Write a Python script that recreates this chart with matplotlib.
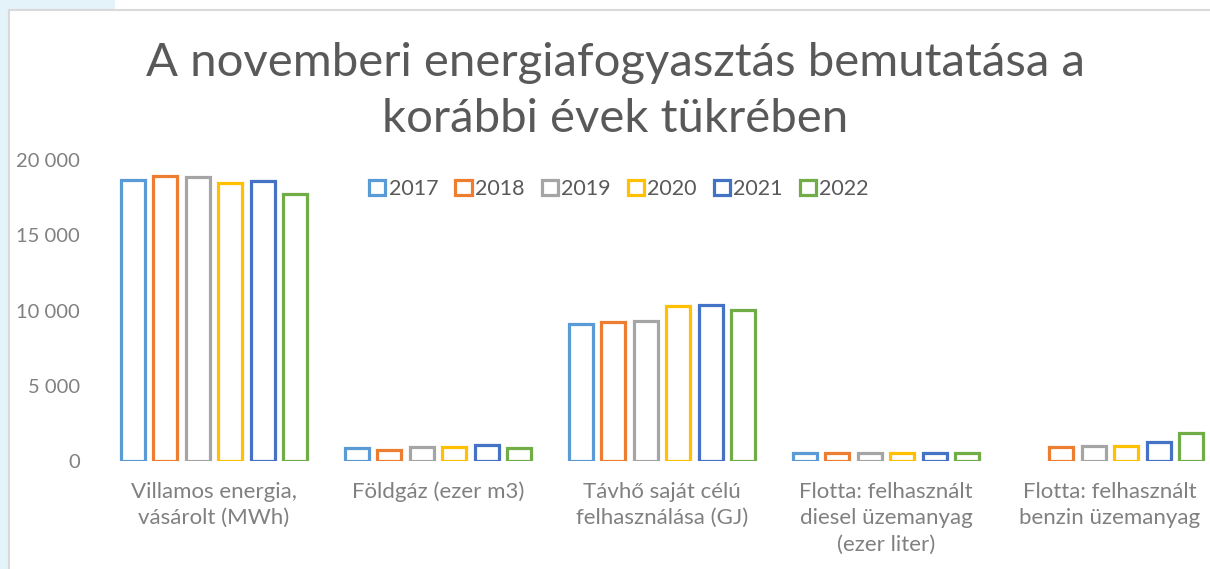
import matplotlib.pyplot as plt
import matplotlib.patches as mpatches
import matplotlib.ticker as mticker
import numpy as np

# Data
categories = [
    "Villamos energia,\nvásárolt (MWh)",
    "Földgáz (ezer m3)",
    "Távhő saját célú\nfelhasználása (GJ)",
    "Flotta: felhasznált\ndiesel üzemanyag\n(ezer liter)",
    "Flotta: felhasznált\nbenzin üzemanyag",
]
years = ["2017", "2018", "2019", "2020", "2021", "2022"]
v2017 = [18650, 850, 9100, 500, np.nan]
v2018 = [18950, 720, 9250, 500, 900]
v2019 = [18900, 920, 9330, 560, 980]
v2020 = [18500, 920, 10270, 560, 980]
v2021 = [18600, 1050, 10380, 560, 1250]
v2022 = [17750, 850, 10050, 560, 1850]
series = [v2017, v2018, v2019, v2020, v2021, v2022]
colors = ['#5b9bd5', '#ed7d31', '#a5a5a5', '#ffc000', '#4472c4', '#70ad47']

plt.rcParams['font.family'] = ['Lato', 'DejaVu Sans']

fig = plt.figure(figsize=(12.1, 5.69), dpi=100)
fig.patch.set_facecolor('white')

# light blue backdrop at the left/top edge of the screenshot
fig.patches.append(mpatches.Rectangle((0, 0), 9 / 1210, 1, transform=fig.transFigure,
                                      facecolor='#e4f2fa', edgecolor='none', zorder=0))
fig.patches.append(mpatches.Rectangle((0, 1 - 10 / 569), 115 / 1210, 10 / 569, transform=fig.transFigure,
                                      facecolor='#e4f2fa', edgecolor='none', zorder=0))
# chart frame
fig.patches.append(mpatches.Rectangle((9 / 1210, -0.1), 1.2, 1.1 - 10 / 569, transform=fig.transFigure,
                                      facecolor='none', edgecolor='#d9d9d9', linewidth=1.5, zorder=1))

ax = fig.add_axes([102 / 1210, 108 / 569, 1120 / 1210, 301 / 569])
ax.set_facecolor('none')

x = np.arange(len(categories))
step = 0.1455
width = 0.107
for i, (year, vals, col) in enumerate(zip(years, series, colors)):
    ax.bar(x + (i - 2.5) * step, vals, width=width, facecolor='white', edgecolor=col,
           linewidth=2.3, joinstyle='miter', label=year)

ax.set_xlim(-0.5, 4.5)
ax.set_ylim(0, 20000)
ax.set_yticks([0, 5000, 10000, 15000, 20000])
ax.yaxis.set_major_formatter(mticker.FuncFormatter(lambda v, p: f"{int(v):,}".replace(",", " ")))
ax.set_xticks(x)
ax.set_xticklabels(categories, linespacing=1.4)
ax.tick_params(axis='y', length=0, pad=16, labelsize=14.5, labelcolor='#808080')
ax.tick_params(axis='x', length=0, pad=15, labelsize=16, labelcolor='#808080')
for s in ax.spines.values():
    s.set_visible(False)

fig.text(615 / 1210, 1 - 91 / 569, "A novemberi energiafogyasztás bemutatása a\nkorábbi évek tükrében",
         ha='center', va='center', fontsize=34, color='#595959', linespacing=1.4)

ax.legend(loc='center', bbox_to_anchor=(619 / 1210, 1 - 189 / 569), bbox_transform=fig.transFigure,
          ncol=6, frameon=False, fontsize=15.5, labelcolor='#595959', handlelength=0.75, handleheight=0.75,
          handletextpad=0.15, columnspacing=0.8)

fig.savefig('out.png', dpi=100, facecolor=fig.get_facecolor())
